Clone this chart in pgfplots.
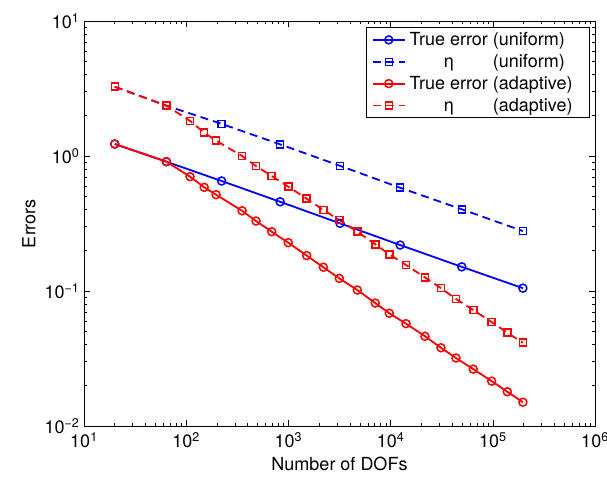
\documentclass[border=0pt]{standalone}
\usepackage{pgfplots}
\pgfplotsset{compat=1.18}
\usepackage{fontspec}
\setmainfont{TeX Gyre Heros}
\newcommand\lf{\fontsize{18}{21}\selectfont}
\newcommand\etaentry[1]{\lf{\setbox0\hbox{True error}\makebox[\wd0][c]{η}}\ (#1)\hspace*{8pt}}
\begin{document}
\begin{tikzpicture}
\begin{axis}[
  name=ax,
  scale only axis,
  width=511pt, height=405pt,
  xmode=log, ymode=log,
  xmin=10, xmax=1e6, ymin=1e-2, ymax=10,
  font=\fontsize{18}{21}\selectfont,
  tick align=inside,
  major tick length=6pt, minor tick length=3pt,
  every tick/.style={black, line width=0.6pt},
  axis line style={line width=0.9pt},
  xticklabel={\pgfmathtruncatemacro\ex{round(\tick/2.302585093)}10\textsuperscript{\ifnum\ex<0 −\the\numexpr-\ex\relax\else\ex\fi}},
  yticklabel={\pgfmathtruncatemacro\ex{round(\tick/2.302585093)}10\textsuperscript{\ifnum\ex<0 −\the\numexpr-\ex\relax\else\ex\fi}},
  xticklabel style={yshift=-3pt},
  yticklabel style={xshift=-1pt},
  xlabel={Number of DOFs},
  ylabel={Errors},
  xlabel style={yshift=-2pt},
  ylabel style={yshift=2pt},
  legend cell align=left,
  legend style={at={(1,1)}, anchor=north east, xshift=-5pt, yshift=-6pt,
    draw=black, line width=0.9pt,
    row sep=0pt, inner xsep=5pt, inner ysep=1.5pt,
    nodes={inner ysep=3.6pt, inner xsep=4pt}},
  legend image code/.code={\draw[mark repeat=2,mark phase=2,#1,line width=1.8pt] plot coordinates {(0pt,0pt)(16pt,0pt)(32pt,0pt)};},
  every axis plot/.append style={line width=1.8pt},
]
\addplot[blue, mark=o, mark size=4pt, mark options={solid, draw=blue, line width=1.5pt}] coordinates {
 (20,1.227) (64,0.908) (222,0.653) (830,0.458) (3200,0.317) (12400,0.219) (49700,0.151) (197000,0.105)
};
\addlegendentry{\lf True error (uniform)\hspace*{8pt}}
\addplot[blue, dash pattern=on 8pt off 5pt, mark=square, mark size=3.5pt, mark options={solid, draw=blue, line width=1.5pt}] coordinates {
 (20,3.26) (64,2.36) (222,1.73) (830,1.22) (3200,0.846) (12400,0.582) (49700,0.403) (197000,0.278)
};
\addlegendentry{\etaentry{uniform}}
\addplot[red, mark=o, mark size=4pt, mark options={solid, draw=red, line width=1.5pt}] coordinates {
 (20,1.227) (64,0.908) (109,0.703) (150,0.586) (196,0.517) (352,0.393) (482,0.330) (687,0.275)
 (997,0.228) (1510,0.183) (2197,0.150) (3150,0.124) (4720,0.1017) (7080,0.0814) (9710,0.0684)
 (14150,0.0573) (21700,0.0462) (31100,0.0380) (43600,0.0319) (64400,0.0264) (97500,0.0215)
 (138600,0.01795) (197000,0.0150)
};
\addlegendentry{\lf True error (adaptive)\hspace*{8pt}}
\addplot[red, dash pattern=on 8pt off 5pt, mark=square, mark size=3.5pt, mark options={solid, draw=red, line width=1.5pt}] coordinates {
 (20,3.26) (64,2.36) (109,1.82) (150,1.49) (196,1.30) (352,1.00) (482,0.843) (687,0.711)
 (997,0.593) (1510,0.483) (2197,0.398) (3150,0.336) (4720,0.275) (7080,0.222) (9710,0.187)
 (14150,0.156) (21700,0.126) (31100,0.105) (43600,0.0873) (64400,0.0723) (97500,0.0589)
 (138600,0.0491) (197000,0.0414)
};
\addlegendentry{\etaentry{adaptive}}
\end{axis}
\pgfresetboundingbox
\path (ax.south west) ++(-84pt,-60pt) rectangle ([shift={(12pt,21pt)}]ax.north east);
\end{tikzpicture}
\end{document}
